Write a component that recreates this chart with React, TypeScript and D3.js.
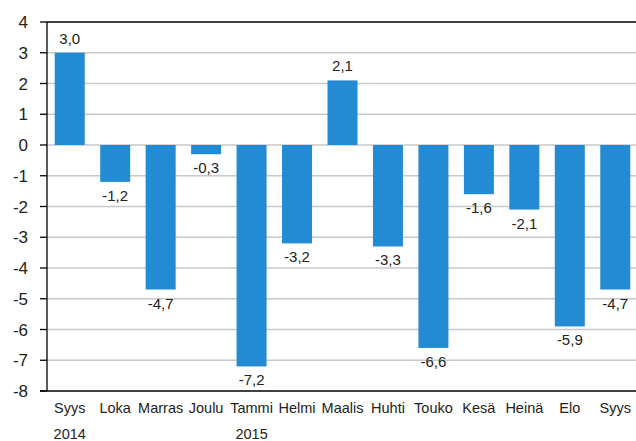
import React from 'react';
import * as d3 from 'd3';

const months = ['Syys', 'Loka', 'Marras', 'Joulu', 'Tammi', 'Helmi', 'Maalis', 'Huhti', 'Touko', 'Kesä', 'Heinä', 'Elo', 'Syys'];
const years = ['2014', '', '', '', '2015', '', '', '', '', '', '', '', ''];
const values = [3.0, -1.2, -4.7, -0.3, -7.2, -3.2, 2.1, -3.3, -6.6, -1.6, -2.1, -5.9, -4.7];
const yTicks = [4, 3, 2, 1, 0, -1, -2, -3, -4, -5, -6, -7, -8];

const W = 636, H = 441;
const margin = {top: 22, right: -2, bottom: 50, left: 47};
const font = 'Arial, "Liberation Sans", sans-serif';

export default function App() {
  const x = d3.scaleBand<number>()
    .domain(d3.range(values.length))
    .range([margin.left, W - margin.right])
    .paddingInner(0.34)
    .paddingOuter(0.17);
  const y = d3.scaleLinear().domain([-8, 4]).range([H - margin.bottom, margin.top]);
  const fmt = (v: number) => v.toFixed(1).replace('.', ',');

  return (
    <svg width={W} height={H} style={{position: 'absolute', left: 0, top: 0, background: '#fff'}}>
      {yTicks.filter(t => t !== 4 && t !== -8).map(t => (
        <line key={'g' + t} x1={margin.left} x2={W} y1={y(t)} y2={y(t)} stroke="#c8c8c8" strokeWidth={1.3} />
      ))}
      {values.map((v, i) => (
        <rect key={'b' + i} x={x(i)} width={x.bandwidth()}
          y={y(Math.max(0, v))} height={Math.abs(y(v) - y(0))} fill="#238bd3" />
      ))}
      <line x1={margin.left} x2={W} y1={y(4)} y2={y(4)} stroke="#000" strokeWidth={1.3} />
      <line x1={margin.left - 7} x2={W} y1={y(-8)} y2={y(-8)} stroke="#000" strokeWidth={1.3} />
      <line x1={margin.left} x2={margin.left} y1={y(4)} y2={y(-8)} stroke="#000" strokeWidth={1.3} />
      {yTicks.map(t => (
        <g key={'t' + t}>
          <line x1={margin.left - 7} x2={margin.left} y1={y(t)} y2={y(t)} stroke="#000" strokeWidth={1.3} />
          <text x={28} y={y(t)} dy="0.36em" textAnchor="end" fontFamily={font} fontSize={17} fill="#222">{t}</text>
        </g>
      ))}
      {values.map((v, i) => (
        <text key={'v' + i} x={x(i)! + x.bandwidth() / 2} y={v >= 0 ? y(v) - 9 : y(v) + 19}
          textAnchor="middle" fontFamily={font} fontSize={15} fill="#222">{fmt(v)}</text>
      ))}
      {months.map((m, i) => (
        <text key={'m' + i} x={x(i)! + x.bandwidth() / 2} y={413}
          textAnchor="middle" fontFamily={font} fontSize={14.5} fill="#222">{m}</text>
      ))}
      {years.map((yr, i) => yr ? (
        <text key={'y' + i} x={x(i)! + x.bandwidth() / 2} y={438.5}
          textAnchor="middle" fontFamily={font} fontSize={14.5} fill="#222">{yr}</text>
      ) : null)}
    </svg>
  );
}
